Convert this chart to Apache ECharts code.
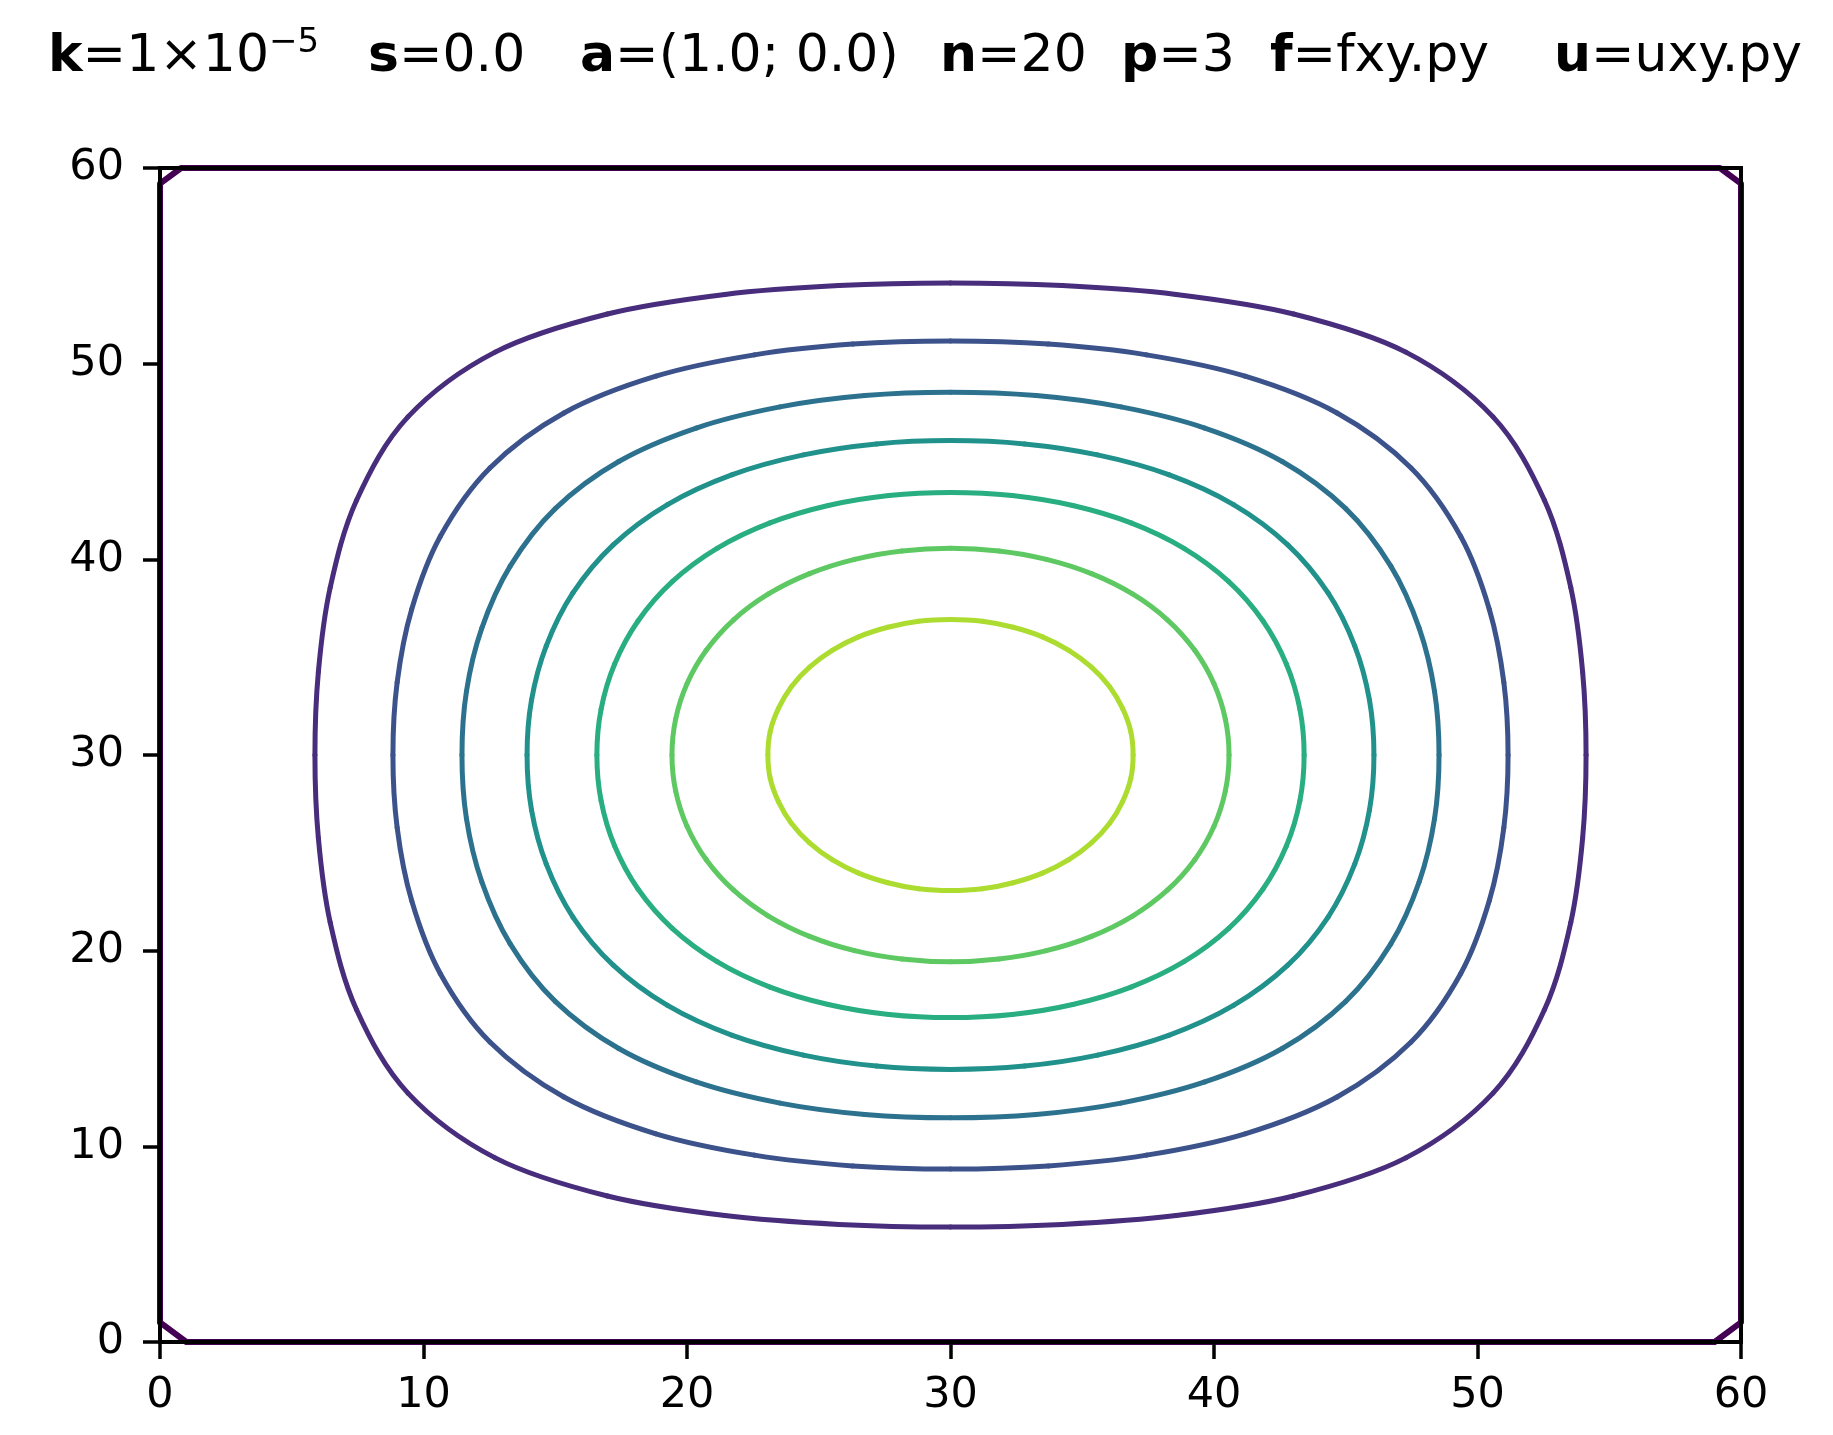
<!DOCTYPE html>
<html>
<head>
<meta charset="utf-8">
<script src="https://cdn.jsdelivr.net/npm/echarts@6/dist/echarts.min.js"></script>
<style>
html,body{margin:0;padding:0;background:#fff;}
#chart{width:1833px;height:1435px;}
</style>
</head>
<body>
<div id="chart"></div>
<script>
// ---------- data ----------
const xTicks = [0, 10, 20, 30, 40, 50, 60];
const yTicks = [0, 10, 20, 30, 40, 50, 60];

const titleParts = [
  ['k', '=1×10', '−5'],
  ['s', '=0.0'],
  ['a', '=(1.0; 0.0)'],
  ['n', '=20'],
  ['p', '=3'],
  ['f', '=fxy.py'],
  ['u', '=uxy.py']
];

// level-0 contour along the boundary (with the cut corners)
const contour0 = [[0,1],[0,59.2],[0.8,60],[59.2,60],[60,59.2],[60,1],[59,0],[1,0],[0,1]];

// closed contour lines (loop closes back to the first point)
const contour1 = [
  [54.12,30],[53.99,34.24],[53.54,38.56],[52.54,43.02],[50.59,47.28],[47.28,50.59],[43.02,52.54],[38.56,53.54],[34.24,53.99],[30,54.12],
  [25.76,53.99],[21.44,53.54],[16.98,52.54],[12.72,50.59],[9.41,47.28],[7.46,43.02],[6.46,38.56],[6.01,34.24],[5.88,30],
  [6.01,25.76],[6.46,21.44],[7.46,16.98],[9.41,12.72],[12.72,9.41],[16.98,7.46],[21.44,6.46],[25.76,6.01],[30,5.88],
  [34.24,6.01],[38.56,6.46],[43.02,7.46],[47.28,9.41],[50.59,12.72],[52.54,16.98],[53.54,21.44],[53.99,25.76]
];
const contour2 = [
  [51.16,30],[51.00,33.71],[50.45,37.44],[49.36,41.18],[47.48,44.67],[44.67,47.48],[41.18,49.36],[37.44,50.45],[33.71,51.00],[30,51.16],
  [26.29,51.00],[22.56,50.45],[18.82,49.36],[15.33,47.48],[12.52,44.67],[10.64,41.18],[9.55,37.44],[9.00,33.71],[8.84,30],
  [9.00,26.29],[9.55,22.56],[10.64,18.82],[12.52,15.33],[15.33,12.52],[18.82,10.64],[22.56,9.55],[26.29,9.00],[30,8.84],
  [33.71,9.00],[37.44,9.55],[41.18,10.64],[44.67,12.52],[47.48,15.33],[49.36,18.82],[50.45,22.56],[51.00,26.29]
];
const contour3 = [
  [48.54,30],[48.37,33.25],[47.79,36.47],[46.71,39.65],[45.00,42.59],[42.59,45.00],[39.65,46.71],[36.47,47.79],[33.25,48.37],[30,48.54],
  [26.75,48.37],[23.53,47.79],[20.35,46.71],[17.41,45.00],[15.00,42.59],[13.29,39.65],[12.21,36.47],[11.63,33.25],[11.46,30],
  [11.63,26.75],[12.21,23.53],[13.29,20.35],[15.00,17.41],[17.41,15.00],[20.35,13.29],[23.53,12.21],[26.75,11.63],[30,11.46],
  [33.25,11.63],[36.47,12.21],[39.65,13.29],[42.59,15.00],[45.00,17.41],[46.71,20.35],[47.79,23.53],[48.37,26.75]
];
const contour4 = [
  [46.07,30],[45.90,32.81],[45.34,35.58],[44.33,38.28],[42.80,40.74],[40.74,42.80],[38.28,44.33],[35.58,45.34],[32.81,45.90],[30,46.07],
  [27.19,45.90],[24.42,45.34],[21.72,44.33],[19.26,42.80],[17.20,40.74],[15.67,38.28],[14.66,35.58],[14.10,32.81],[13.93,30],
  [14.10,27.19],[14.66,24.42],[15.67,21.72],[17.20,19.26],[19.26,17.20],[21.72,15.67],[24.42,14.66],[27.19,14.10],[30,13.93],
  [32.81,14.10],[35.58,14.66],[38.28,15.67],[40.74,17.20],[42.80,19.26],[44.33,21.72],[45.34,24.42],[45.90,27.19]
];
const contour5 = [
  [43.42,30],[43.26,32.34],[42.75,34.64],[41.86,36.85],[40.56,38.86],[38.86,40.56],[36.85,41.86],[34.64,42.75],[32.34,43.26],[30,43.42],
  [27.66,43.26],[25.36,42.75],[23.15,41.86],[21.14,40.56],[19.44,38.86],[18.14,36.85],[17.25,34.64],[16.74,32.34],[16.58,30],
  [16.74,27.66],[17.25,25.36],[18.14,23.15],[19.44,21.14],[21.14,19.44],[23.15,18.14],[25.36,17.25],[27.66,16.74],[30,16.58],
  [32.34,16.74],[34.64,17.25],[36.85,18.14],[38.86,19.44],[40.56,21.14],[41.86,23.15],[42.75,25.36],[43.26,27.66]
];
const contour6 = [
  [40.57,30],[40.43,31.84],[40.00,33.64],[39.27,35.35],[38.23,36.91],[36.91,38.23],[35.35,39.27],[33.64,40.00],[31.84,40.43],[30,40.57],
  [28.16,40.43],[26.36,40.00],[24.65,39.27],[23.09,38.23],[21.77,36.91],[20.73,35.35],[20.00,33.64],[19.57,31.84],[19.43,30],
  [19.57,28.16],[20.00,26.36],[20.73,24.65],[21.77,23.09],[23.09,21.77],[24.65,20.73],[26.36,20.00],[28.16,19.57],[30,19.43],
  [31.84,19.57],[33.64,20.00],[35.35,20.73],[36.91,21.77],[38.23,23.09],[39.27,24.65],[40.00,26.36],[40.43,28.16]
];
const contour7 = [
  [36.93,30],[36.84,31.21],[36.53,32.38],[36.04,33.49],[35.35,34.49],[34.49,35.35],[33.49,36.04],[32.38,36.53],[31.21,36.84],[30,36.93],
  [28.79,36.84],[27.62,36.53],[26.51,36.04],[25.51,35.35],[24.65,34.49],[23.96,33.49],[23.47,32.38],[23.16,31.21],[23.07,30],
  [23.16,28.79],[23.47,27.62],[23.96,26.51],[24.65,25.51],[25.51,24.65],[26.51,23.96],[27.62,23.47],[28.79,23.16],[30,23.07],
  [31.21,23.16],[32.38,23.47],[33.49,23.96],[34.49,24.65],[35.35,25.51],[36.04,26.51],[36.53,27.62],[36.84,28.79]
];

// ---------- styles / layout ----------
const closedContours = [contour1, contour2, contour3, contour4, contour5, contour6, contour7];
const boundaryColor = '#440154';
const contourColors = ['#472d7b', '#3b528b', '#2c728e', '#21918c', '#28ae80', '#5ec962', '#addc30'];
const titleLefts = [43, 363, 575, 935, 1116, 1265, 1549];

const FONT = "'DejaVu Sans', 'Liberation Sans', sans-serif";

const titles = titleParts.map((p, i) => ({
  left: titleLefts[i],
  top: 21,
  text: '{b|' + p[0] + '}{n|' + p[1] + '}' + (p[2] ? '{s|' + p[2] + '}' : ''),
  textStyle: {
    fontWeight: 'normal',
    rich: {
      b: { fontFamily: FONT, fontWeight: 'bold', fontSize: 52, lineHeight: 62, color: '#000' },
      n: { fontFamily: FONT, fontWeight: 'normal', fontSize: 52, lineHeight: 62, color: '#000' },
      s: { fontFamily: FONT, fontWeight: 'normal', fontSize: 34, lineHeight: 34, verticalAlign: 'top', color: '#000' }
    }
  }
}));

const axisCommon = {
  type: 'value',
  min: 0,
  max: 60,
  interval: 10,
  z: 5,
  axisLine: { show: true, onZero: false, lineStyle: { color: '#000', width: 4 } },
  axisTick: { show: true, length: 17, lineStyle: { color: '#000', width: 3.5 } },
  splitLine: { show: false },
};

// smooth closed curve through the read points (Catmull-Rom segments, positioned by the axes)
function closedCurveRenderer(pts, color) {
  return function (params, api) {
    const n = pts.length;
    const i = params.dataIndex;
    const c = k => api.coord(pts[((k % n) + n) % n]);
    const p0 = c(i - 1), p1 = c(i), p2 = c(i + 1), p3 = c(i + 2);
    return {
      type: 'bezierCurve',
      shape: {
        x1: p1[0], y1: p1[1], x2: p2[0], y2: p2[1],
        cpx1: p1[0] + (p2[0] - p0[0]) / 6, cpy1: p1[1] + (p2[1] - p0[1]) / 6,
        cpx2: p2[0] - (p3[0] - p1[0]) / 6, cpy2: p2[1] - (p3[1] - p1[1]) / 6
      },
      style: { stroke: color, lineWidth: 5, fill: 'none', lineCap: 'round' },
      silent: true
    };
  };
}

const series = [{
  type: 'line',
  data: contour0,
  smooth: false,
  showSymbol: false,
  symbol: 'none',
  clip: false,
  lineStyle: { color: boundaryColor, width: 6, join: 'round', cap: 'round' },
  z: 1
}].concat(closedContours.map((pts, i) => ({
  type: 'custom',
  data: pts,
  encode: { x: 0, y: 1 },
  clip: false,
  renderItem: closedCurveRenderer(pts, contourColors[i]),
  z: 2
})));

const chart = echarts.init(document.getElementById('chart'), null, { renderer: 'canvas' });
chart.setOption({
  backgroundColor: '#fff',
  animation: false,
  title: titles,
  grid: {
    left: 160, right: 92, top: 168, bottom: 93,
    containLabel: false,
    z: 5,
    show: true, borderColor: '#000', borderWidth: 4, backgroundColor: 'transparent'
  },
  xAxis: Object.assign({}, axisCommon, {
    axisLabel: { fontSize: 43, color: '#000', fontFamily: FONT, margin: 32,
      formatter: v => xTicks.includes(v) ? String(v) : '' }
  }),
  yAxis: Object.assign({}, axisCommon, {
    axisLabel: { fontSize: 43, color: '#000', fontFamily: FONT, margin: 36,
      formatter: v => yTicks.includes(v) ? String(v) : '' }
  }),
  series: series
});
</script>
</body>
</html>
